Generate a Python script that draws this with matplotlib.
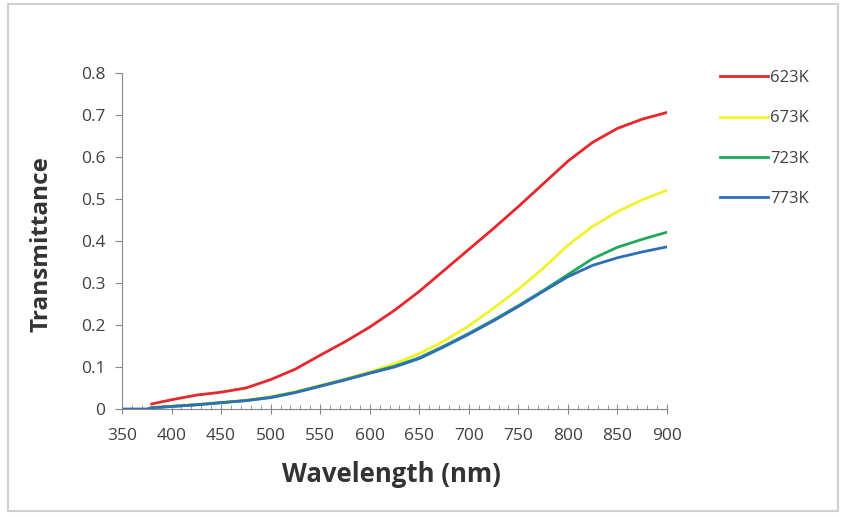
import numpy as np
import matplotlib.pyplot as plt
from matplotlib.patches import Rectangle

# dados
wl = [380, 400, 425, 450, 475, 500, 525, 550, 575, 600, 625, 650, 675,
      700, 725, 750, 775, 800, 825, 850, 875, 900]
t623 = [0.012, 0.022, 0.033, 0.040, 0.050, 0.070, 0.095, 0.128, 0.160, 0.195,
        0.235, 0.280, 0.330, 0.380, 0.430, 0.482, 0.536, 0.590, 0.635, 0.668,
        0.690, 0.706]
t673 = [0.004, 0.007, 0.011, 0.016, 0.021, 0.029, 0.041, 0.056, 0.071, 0.088,
        0.108, 0.132, 0.162, 0.198, 0.240, 0.285, 0.335, 0.390, 0.435, 0.470,
        0.498, 0.521]
t723 = [0.003, 0.006, 0.010, 0.015, 0.020, 0.028, 0.040, 0.055, 0.070, 0.086,
        0.102, 0.122, 0.150, 0.180, 0.212, 0.246, 0.282, 0.320, 0.358, 0.385,
        0.404, 0.421]
wl773 = [350, 375] + wl
t773 = [0.0, 0.0] + [0.003, 0.006, 0.010, 0.015, 0.020, 0.027, 0.039, 0.054,
                     0.069, 0.085, 0.100, 0.120, 0.148, 0.178, 0.210, 0.244,
                     0.280, 0.315, 0.342, 0.360, 0.374, 0.386]

labels = ["623K", "673K", "723K", "773K"]
cores = ["#e8262b", "#f2f22a", "#22a85a", "#2e6fb8"]

plt.rcParams['font.family'] = ['Open Sans', 'DejaVu Sans']

fig = plt.figure(figsize=(8.42, 5.17), dpi=100)
ax = fig.add_axes([0.1449, 0.2089, 0.6473, 0.65])

ax.plot(wl, t623, color=cores[0], lw=2.0, label=labels[0])
ax.plot(wl, t673, color=cores[1], lw=2.0, label=labels[1])
ax.plot(wl, t723, color=cores[2], lw=2.0, label=labels[2])
ax.plot(wl773, t773, color=cores[3], lw=2.0, label=labels[3])

ax.set_xlim(350, 900)
ax.set_ylim(0, 0.8)
ax.set_xticks(np.arange(350, 901, 50))
ax.set_xticks(np.arange(350, 901, 10), minor=True)
ax.set_yticks(np.arange(0, 0.81, 0.1))
ax.set_yticklabels(["0"] + ["%.1f" % v for v in np.arange(0.1, 0.81, 0.1)])

for s in ["top", "right"]:
    ax.spines[s].set_visible(False)
for s in ["left", "bottom"]:
    ax.spines[s].set_color("#888888")
ax.tick_params(axis="x", which="major", direction="inout", length=7,
               color="#888888", labelsize=12.5, labelcolor="#404040", pad=10)
ax.tick_params(axis="x", which="minor", direction="in", length=3,
               color="#888888")
ax.tick_params(axis="y", which="major", direction="out", length=5,
               color="#888888", labelsize=12.5, labelcolor="#404040", pad=7)

ax.set_xlabel("Wavelength (nm)", fontsize=18.5, fontweight="bold",
              color="#333333", va="center")
ax.set_ylabel("Transmittance", fontsize=17.5, fontweight="bold",
              color="#333333", va="center")
ax.xaxis.set_label_coords(0.495, -0.195)
ax.yaxis.set_label_coords(-0.147, 0.49)

leg = ax.legend(loc="upper left", bbox_to_anchor=(1.085, 1.028), frameon=False,
                fontsize=12, handlelength=2.9, handletextpad=0.1,
                labelspacing=1.45, borderaxespad=0)
for t in leg.get_texts():
    t.set_color("#404040")

# moldura da imagem
fig.patches.append(Rectangle((0.01, 0.012), 0.985, 0.98, transform=fig.transFigure,
                             fill=False, edgecolor="#d0d0d0", lw=1.5))

fig.savefig("out.png", dpi=100)
